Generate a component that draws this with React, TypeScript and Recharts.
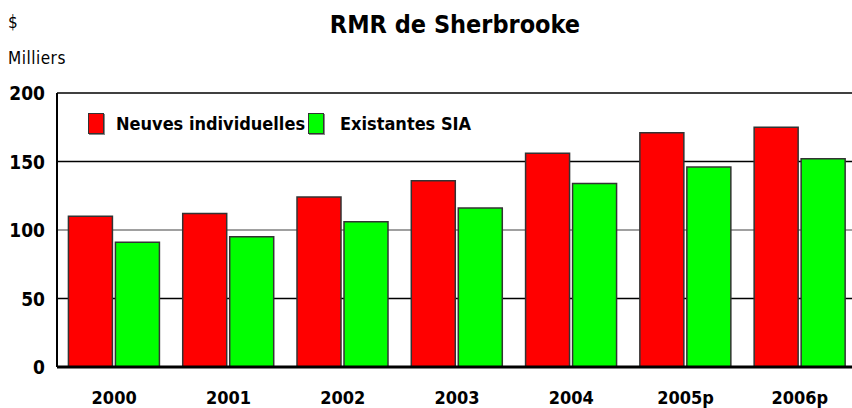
import React from "react";
import { BarChart, Bar, XAxis, YAxis, CartesianGrid } from "recharts";

const years = ["2000", "2001", "2002", "2003", "2004", "2005p", "2006p"];
const neuves = [110, 112, 124, 136, 156, 171, 175];
const existantes = [91, 95, 106, 116, 134, 146, 152];
const yTicks = [0, 50, 100, 150, 200];

const data = years.map((y, i) => ({ year: y, neuves: neuves[i], existantes: existantes[i] }));

const FONT = "'DejaVu Sans Condensed', 'DejaVu Sans', sans-serif";

const YTick = (p: any) => (
  <text x={45} y={p.y} dy={7} textAnchor="end" fontFamily={FONT} fontWeight="bold" fontSize={19} fill="#000">
    {p.payload.value}
  </text>
);
const XTick = (p: any) => (
  <text x={p.x} y={p.y} dy={29} textAnchor="middle" fontFamily={FONT} fontWeight="bold" fontSize={18} fill="#000">
    {p.payload.value}
  </text>
);

const GridLine = (p: any) => {
  const stroke = p.index === 1 ? "#808080" : "#000";
  return <line key={p.index} x1={p.x1} x2={p.x2} y1={p.y1} y2={p.y2} stroke={stroke} strokeWidth={1.5} />;
};

export default function App() {
  return (
    <div style={{ position: "absolute", left: 0, top: 0, width: 852, height: 408, overflow: "hidden", background: "#fff" }}>
      <div style={{ position: "absolute", left: 8, top: 12, fontFamily: FONT, fontSize: 17 }}>$</div>
      <div style={{ position: "absolute", left: 8, top: 48, fontFamily: FONT, fontSize: 17, letterSpacing: 0.5 }}>Milliers</div>
      <div style={{ position: "absolute", left: 0, width: 910, top: 10, textAlign: "center", fontFamily: FONT, fontWeight: "bold", fontSize: 25 }}>
        RMR de Sherbrooke
      </div>
      <div style={{ position: "absolute", left: 88, top: 113, display: "flex", alignItems: "center", fontFamily: FONT, fontWeight: "bold", fontSize: 18, zIndex: 2 }}>
        <span style={{ width: 14, height: 19, background: "#ff0000", border: "1px solid #333", boxShadow: "1px 1px 0 #888", display: "inline-block" }} />
        <span style={{ marginLeft: 12, width: 192 }}>Neuves individuelles</span>
        <span style={{ width: 14, height: 19, background: "#00ff00", border: "1px solid #333", boxShadow: "1px 1px 0 #888", display: "inline-block" }} />
        <span style={{ marginLeft: 16 }}>Existantes SIA</span>
      </div>
      <div style={{ position: "absolute", left: 0, top: 0 }}>
        <BarChart
          width={860}
          height={408}
          data={data}
          margin={{ top: 93, right: 3, bottom: 0, left: 0 }}
          barCategoryGap="10%"
          barGap={3}
        >
          <CartesianGrid vertical={false} horizontal={GridLine} horizontalValues={[50, 100, 150, 200]} />
          <XAxis dataKey="year" height={41} tick={XTick} tickLine={false} axisLine={{ stroke: "#000", strokeWidth: 3 }} interval={0} />
          <YAxis width={57} domain={[0, 200]} ticks={yTicks} tick={YTick} tickLine={false} axisLine={{ stroke: "#000", strokeWidth: 2 }} />
          <Bar dataKey="neuves" fill="#ff0000" stroke="#333" strokeWidth={1.5} isAnimationActive={false} />
          <Bar dataKey="existantes" fill="#00ff00" stroke="#333" strokeWidth={1.5} isAnimationActive={false} />
        </BarChart>
      </div>
    </div>
  );
}
